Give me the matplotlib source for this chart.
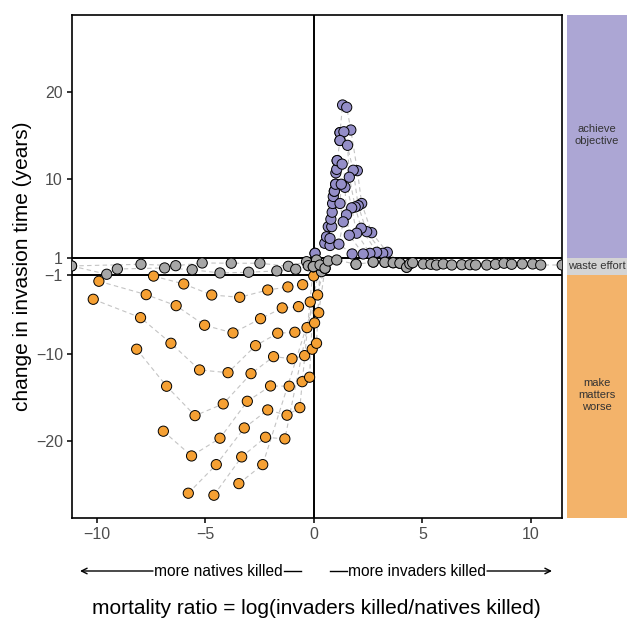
import numpy as np
import matplotlib.pyplot as plt
from matplotlib.patches import Rectangle

plt.rcParams['font.family'] = ['Liberation Sans', 'DejaVu Sans']

# "make matters worse" trajectories (left side)
orange1_x = [-7.39, -6.0, -4.71, -3.42, -2.13, -1.2, -0.52, -0.01, -0.03]
orange1_y = [-1.1, -2.0, -3.26, -3.52, -2.69, -2.34, -2.08, -1.09, -0.02]
orange2_x = [-9.91, -7.73, -6.35, -5.04, -3.73, -2.46, -1.46, -0.71, -0.17, 0.17, 0.35]
orange2_y = [-1.69, -3.22, -4.48, -6.72, -7.6, -5.97, -4.74, -4.59, -4.06, -3.26, -0.59]
orange3_x = [-10.17, -7.99, -6.59, -5.27, -3.96, -2.69, -1.67, -0.88, -0.32, 0.03, 0.22, 0.51]
orange3_y = [-3.75, -5.85, -8.78, -11.83, -12.14, -9.05, -7.63, -7.52, -6.99, -6.45, -5.28, -0.2]
orange4_x = [-8.17, -6.79, -5.48, -4.18, -2.9, -1.86, -1.01, -0.43, -0.08, 0.12, 0.28]
orange4_y = [-9.46, -13.69, -17.05, -15.71, -12.25, -10.31, -10.54, -10.19, -9.46, -8.78, 0.17]
orange5_x = [-6.94, -5.64, -4.33, -3.07, -2.0, -1.14, -0.54, -0.2, 0.05]
orange5_y = [-18.83, -21.66, -19.63, -15.41, -13.66, -13.69, -13.17, -12.66, 1.5]
orange6_x = [-5.79, -4.5, -3.21, -2.13, -1.24, -0.65, -0.03]
orange6_y = [-25.92, -22.65, -18.46, -16.4, -17.0, -16.14, -0.02]
orange7_x = [-4.61, -3.33, -2.23, -1.34, 0.28]
orange7_y = [-26.15, -21.77, -19.52, -19.71, 0.17]
orange8_x = [-3.46, -2.36, 0.51]
orange8_y = [-24.82, -22.65, -0.2]

# "achieve objective" trajectories (near origin, right)
spine_x = [0.05, 0.5, 0.74, 0.58, 0.74, 0.66, 0.82, 0.78, 0.84, 0.86, 0.89, 0.94, 1.0,
           1.01, 1.05, 1.07, 1.2, 1.2, 1.32, 1.51, 1.7, 2.0, 2.2, 2.66, 3.38, 4.27]
spine_y = [1.5, 2.65, 2.4, 3.4, 3.2, 4.55, 4.55, 5.4, 6.2, 7.2, 8.0, 8.6, 9.4,
           10.7, 11.1, 12.1, 14.4, 15.3, 18.46, 18.2, 15.6, 10.95, 7.2, 3.86, 1.62, -0.09]
branch2_x = [1.2, 1.38, 1.81, 2.04, 2.43, 3.17, 3.96]
branch2_y = [15.3, 15.4, 11.0, 6.95, 3.98, 1.5, 0.37]
branch3_x = [1.2, 1.55, 1.63, 1.9, 2.18, 2.89, 3.65]
branch3_y = [14.4, 13.85, 10.2, 6.8, 4.37, 1.62, 0.43]
branch4_x = [1.07, 1.3, 1.74, 1.97, 2.58, 3.27]
branch4_y = [12.1, 11.7, 6.7, 3.8, 1.5, 0.48]
branch5_x = [0.94, 1.43, 1.5, 1.63, 2.27, 2.73]
branch5_y = [8.6, 9.05, 5.9, 3.57, 1.43, 0.5]
branch6_x = [1.0, 1.26, 1.2, 1.35, 1.15, 1.76, 1.94]
branch6_y = [9.4, 9.4, 7.2, 5.1, 2.55, 1.43, 0.25]

# "waste effort" trajectories (inside the band)
grayU_x = [-11.17, -7.97, -6.37, -5.15, -3.81, -2.49, -1.18, -0.34, 0.12]
grayU_y = [0.06, 0.25, 0.09, 0.4, 0.37, 0.37, 0.02, 0.55, 0.74]
grayL_x = [-11.17, -9.55, -9.06, -6.88, -5.61, -4.33, -3.01, -1.71, -0.84, -0.26, -0.03]
grayL_y = [0.06, -0.89, -0.29, -0.17, -0.37, -0.74, -0.66, -0.51, -0.32, 0.09, -0.02]
grayR_x = [-0.03, 0.28, 0.51, 0.66, 1.05, 1.94, 2.73, 3.27, 3.65, 3.96, 4.27, 4.42, 4.55,
           5.04, 5.39, 5.65, 5.96, 6.35, 6.81, 7.19, 7.45, 7.96, 8.37, 8.76, 9.11,
           9.6, 10.08, 10.45, 11.44]
grayR_y = [-0.02, 0.17, -0.2, 0.63, 0.74, 0.25, 0.5, 0.48, 0.43, 0.37, -0.09, 0.29, 0.43,
           0.29, 0.25, 0.17, 0.29, 0.17, 0.2, 0.2, 0.17, 0.17, 0.25, 0.37, 0.25,
           0.29, 0.29, 0.17, 0.17]

series = [
    (orange1_x, orange1_y), (orange2_x, orange2_y), (orange3_x, orange3_y),
    (orange4_x, orange4_y), (orange5_x, orange5_y), (orange6_x, orange6_y),
    (orange7_x, orange7_y), (orange8_x, orange8_y),
    (spine_x, spine_y), (branch2_x, branch2_y), (branch3_x, branch3_y),
    (branch4_x, branch4_y), (branch5_x, branch5_y), (branch6_x, branch6_y),
    (grayU_x, grayU_y), (grayL_x, grayL_y), (grayR_x, grayR_y),
]

col_good = '#948ec8'
col_bad = '#f5a033'
col_waste = '#a6a6a6'

fig = plt.figure(figsize=(6.27, 6.21), dpi=100)
ax = fig.add_axes([0.1148, 0.1659, 0.7815, 0.8100])
side = fig.add_axes([0.9043, 0.1659, 0.0957, 0.8100])

for xs, ys in series:
    ax.plot(xs, ys, ls=(0, (4, 3)), color='#c4c4c4', lw=0.8, zorder=1)

ax.axhline(1, color='black', lw=1.4, zorder=2)
ax.axhline(-1, color='black', lw=1.4, zorder=2)
ax.axvline(0, color='black', lw=1.4, zorder=2)

all_x = np.concatenate([np.array(s[0]) for s in series])
all_y = np.concatenate([np.array(s[1]) for s in series])
cols = np.where(all_y > 1, col_good, np.where(all_y < -1, col_bad, col_waste))
ax.scatter(all_x, all_y, s=54, c=cols, edgecolors='black', linewidths=0.7, zorder=3)

ax.set_xlim(-11.15, 11.43)
ax.set_ylim(-28.75, 28.75)
ax.set_xticks([-10, -5, 0, 5, 10])
ax.set_xticklabels(['\u221210', '\u22125', '0', '5', '10'])
ax.set_yticks([-20, -10, -1, 1, 10, 20])
ax.set_yticklabels(['\u221220', '\u221210', '\u22121', '1', '10', '20'])
ax.tick_params(direction='out', length=3.5, width=1.1, colors='black',
               labelcolor='#4d4d4d', labelsize=11.5, pad=3)
for sp in ax.spines.values():
    sp.set_linewidth(1.2)
ax.set_ylabel('change in invasion time (years)', fontsize=15, labelpad=3)

# side panel with outcome categories
side.set_xlim(0, 1)
side.set_ylim(-28.75, 28.75)
side.add_patch(Rectangle((0, 1), 1, 27.75, color='#aca6d4', lw=0))
side.add_patch(Rectangle((0, -1), 1, 2, color='#d4d4d4', lw=0))
side.add_patch(Rectangle((0, -28.75), 1, 27.75, color='#f3b36a', lw=0))
side.text(0.5, 15.0, 'achieve\nobjective', ha='center', va='center', fontsize=8,
          color='#333333', linespacing=1.2)
side.text(0.5, 0, 'waste effort', ha='center', va='center', fontsize=8, color='#333333')
side.text(0.5, -14.7, 'make\nmatters\nworse', ha='center', va='center', fontsize=8,
          color='#333333', linespacing=1.2)
side.axis('off')

# arrows below the x axis
ya = 1 - 571 / 621
fig.text(218 / 627, ya, 'more natives killed', ha='center', va='center', fontsize=11.2)
fig.text(417 / 627, ya, 'more invaders killed', ha='center', va='center', fontsize=11.2)
fig.add_artist(plt.Line2D([284 / 627, 301 / 627], [ya, ya], color='black', lw=1))
fig.add_artist(plt.Line2D([330 / 627, 347 / 627], [ya, ya], color='black', lw=1))
ax.annotate('', xy=(80 / 627, ya), xytext=(153 / 627, ya), xycoords='figure fraction',
            textcoords='figure fraction',
            arrowprops=dict(arrowstyle='->', lw=1, color='black', shrinkA=0, shrinkB=0))
ax.annotate('', xy=(552 / 627, ya), xytext=(487 / 627, ya), xycoords='figure fraction',
            textcoords='figure fraction',
            arrowprops=dict(arrowstyle='->', lw=1, color='black', shrinkA=0, shrinkB=0))

fig.text(316 / 627, 1 - 608 / 621, 'mortality ratio = log(invaders killed/natives killed)',
         ha='center', va='center', fontsize=15)

fig.savefig('out.png', dpi=100)
